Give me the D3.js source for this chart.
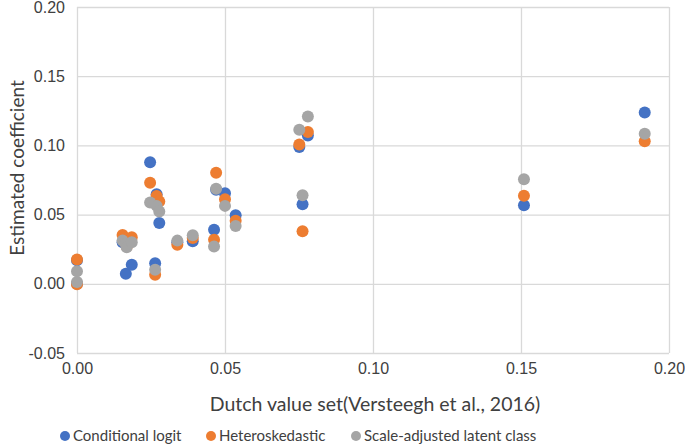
<!DOCTYPE html>
<html>
<head>
<meta charset="utf-8">
<script src="https://cdn.jsdelivr.net/npm/d3@7"></script>
<style>
  body { margin: 0; background: #fff; }
  svg { font-family: Lato, "Liberation Sans", sans-serif; }
</style>
</head>
<body>
<div class="box"></div>
<script>
// valeurs
const dutch = [0, 0, 0.0154, 0.0165, 0.0168, 0.0185, 0.0247, 0.0264, 0.0269, 0.0278, 0.0339,
               0.0391, 0.0463, 0.047, 0.050, 0.0536, 0.0751, 0.0762, 0.078, 0.151, 0.1918];
const condLogit = [0.017, 0.000, 0.030, 0.0073, 0.028, 0.0138, 0.0879, 0.0149, 0.0647, 0.0439, 0.030,
                   0.0307, 0.0391, 0.068, 0.0654, 0.0496, 0.0989, 0.0575, 0.1072, 0.0568, 0.1237];
const hetero = [0.0176, -0.0004, 0.0353, 0.030, 0.027, 0.0336, 0.073, 0.0066, 0.0635, 0.0594, 0.0283,
                0.0331, 0.0319, 0.0802, 0.0611, 0.0456, 0.1006, 0.0379, 0.1096, 0.0637, 0.103];
const scaleLc = [0.009, 0.0013, 0.0312, 0.0288, 0.0264, 0.030, 0.0587, 0.0102, 0.0563, 0.0522, 0.0312,
                 0.035, 0.0269, 0.0687, 0.0563, 0.0417, 0.1113, 0.064, 0.1209, 0.0755, 0.1085];
const seriesNames = ['Conditional logit', 'Heteroskedastic', 'Scale-adjusted latent class'];
const xTicks = [0, 0.05, 0.10, 0.15, 0.20];
const yTicks = [-0.05, 0, 0.05, 0.10, 0.15, 0.20];

const series = [condLogit, hetero, scaleLc];
const couleurs = ['#4472C4', '#ED7D31', '#A5A5A5'];

const dims = {width: 685, height: 446};
const m = {left: 77, right: 16, top: 7, bottom: 93};
const w = dims.width - m.left - m.right;
const h = dims.height - m.top - m.bottom;

const svg = d3.select('.box')
              .append('svg')
              .attr('width', dims.width)
              .attr('height', dims.height);

const graph = svg.append('g')
                 .attr('transform', `translate(${m.left}, ${m.top})`);

const x = d3.scaleLinear().domain([0, 0.20]).range([0, w]);
const y = d3.scaleLinear().domain([-0.05, 0.20]).range([h, 0]);

// format avec un tiret simple (comme Excel)
const fmt = d => d3.format('.2f')(d).replace('\u2212', '-');

// grille + axes
const xAxis = graph.append('g')
                   .attr('transform', `translate(0, ${h})`)
                   .call(d3.axisBottom(x).tickValues(xTicks).tickSize(-h).tickPadding(10).tickFormat(fmt));
const yAxis = graph.append('g')
                   .call(d3.axisLeft(y).tickValues(yTicks).tickSize(-w).tickPadding(12).tickFormat(fmt));

[xAxis, yAxis].forEach(a => {
    a.select('.domain').remove();
    a.selectAll('line').attr('stroke', '#d9d9d9').attr('stroke-width', 1.3);
    a.selectAll('text').attr('fill', '#404040').style('font-size', '16px');
});

// points
series.forEach((s, i) => {
    graph.append('g')
         .selectAll('circle')
         .data(s.map((v, j) => ({x: dutch[j], y: v})))
         .enter()
         .append('circle')
         .attr('cx', d => x(d.x))
         .attr('cy', d => y(d.y))
         .attr('r', 6)
         .attr('fill', couleurs[i]);
});

// titres des axes
svg.append('text')
   .attr('x', m.left + w / 2 + 2)
   .attr('y', 411)
   .attr('text-anchor', 'middle')
   .attr('fill', '#404040')
   .style('font-size', '19.5px')
   .text('Dutch value set(Versteegh et al., 2016)');

svg.append('text')
   .attr('transform', `translate(24, 168) rotate(-90)`)
   .attr('text-anchor', 'middle')
   .attr('fill', '#404040')
   .style('font-size', '19px')
   .text('Estimated coefficient');

// légendes
const legX = [65, 211, 356];
const leg = svg.append('g');
seriesNames.forEach((n, i) => {
    const g = leg.append('g').attr('transform', `translate(${legX[i]}, 436)`);
    g.append('circle').attr('r', 5).attr('fill', couleurs[i]);
    g.append('text')
     .attr('x', 8)
     .attr('dy', '0.35em')
     .attr('fill', '#404040')
     .style('font-size', '15px')
     .text(n);
});
</script>
</body>
</html>
